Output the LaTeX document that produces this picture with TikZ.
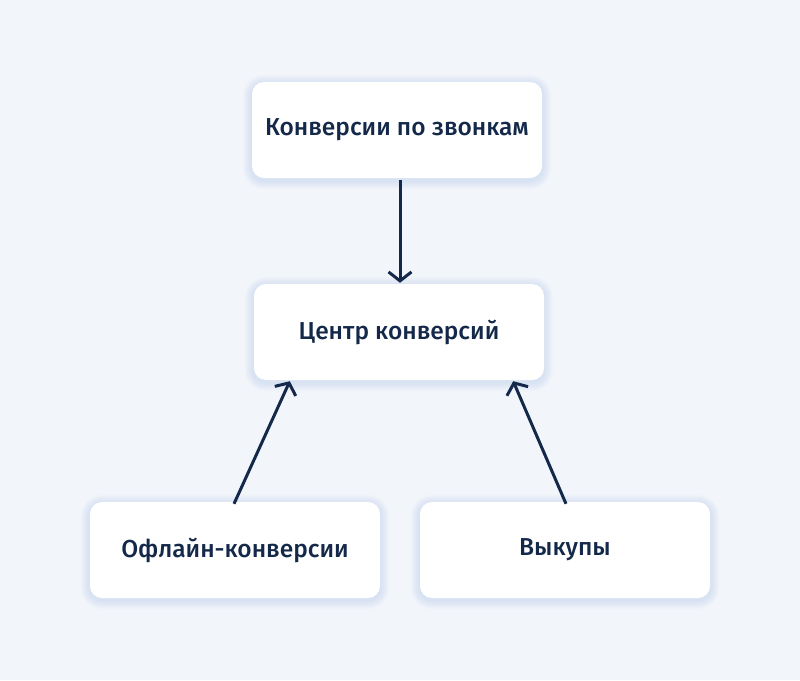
\documentclass[tikz,border=0pt]{standalone}
\usepackage{fontspec}
\setmainfont{Fira Sans}[BoldFont={Fira Sans Medium}]
\usetikzlibrary{arrows.meta,backgrounds,calc}
\definecolor{bg}{HTML}{F2F6FB}
\definecolor{ink}{HTML}{14294A}
\definecolor{glowc}{HTML}{9DB8E6}
\tikzset{
  card/.style={rectangle, rounded corners=12pt, fill=white, minimum width=290pt, minimum height=96pt,
    inner sep=0pt, font=\fontsize{24.5}{29}\selectfont\bfseries, text=ink},
  link/.style={draw=ink, line width=3pt, -{Straight Barb[length=9pt,width=23pt,line width=3pt]}}
}
\begin{document}
\begin{tikzpicture}[x=1pt,y=-1pt]
\useasboundingbox (0,0) rectangle (800,680);
\node[card] (top) at (397,130) {Конверсии по звонкам};
\node[card] (mid) at (399,332) {Центр конверсий};
\node[card] (bl) at (235,550) {Офлайн-конверсии};
\node[card] (br) at (565,550) {Выкупы};
\begin{scope}[on background layer]
\fill[bg] (0,0) rectangle (800,680);
\foreach \n in {top,mid,bl,br}{
  \foreach \r in {1,...,9}{
    \fill[glowc, opacity=0.035, rounded corners={12+\r}]
      ([shift={(-\r,-\r+2)}]\n.north west) rectangle ([shift={(\r,\r+2)}]\n.south east);
  }
}
\end{scope}
\draw[link] ([xshift=3pt,yshift=-2pt]top.south) -- ([xshift=1pt,yshift=1pt]mid.north);
\draw[link] ([xshift=-1pt,yshift=-2pt]bl.north) -- ([xshift=36pt,yshift=-1pt]mid.south west);
\draw[link] ([xshift=1pt,yshift=-2pt]br.north) -- ([xshift=-31pt,yshift=-1pt]mid.south east);
\end{tikzpicture}
\end{document}
